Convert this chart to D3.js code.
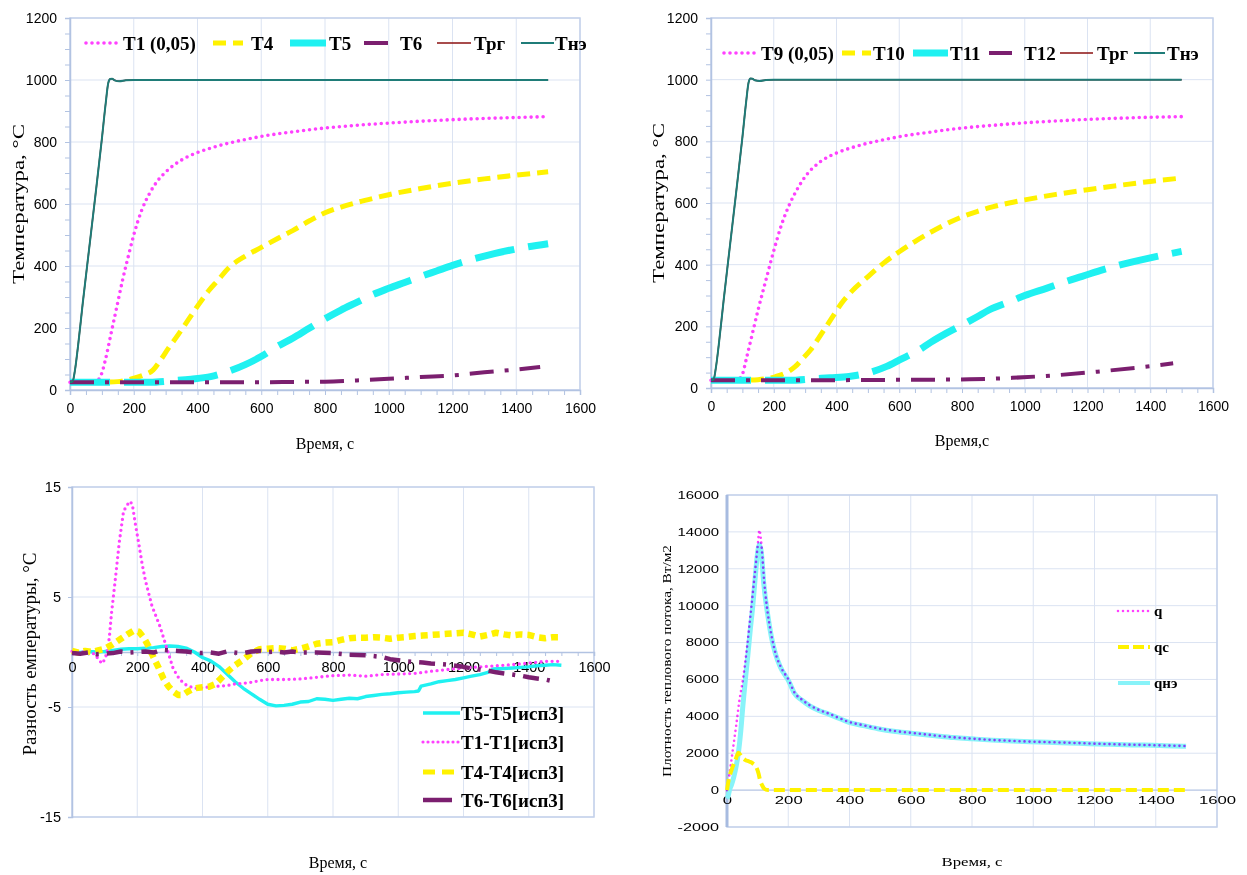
<!DOCTYPE html>
<html lang="ru">
<head>
<meta charset="utf-8">
<title>Температуры и тепловой поток</title>
<script src="https://cdn.jsdelivr.net/npm/d3@7/dist/d3.min.js"></script>
<style>
  html, body { margin: 0; padding: 0; background: #ffffff; }
  svg { display: block; }
</style>
</head>
<body>
<svg id="chart" width="1247" height="875"></svg>
<script>
// ---------- tick values ----------
const timeTicks = [0, 200, 400, 600, 800, 1000, 1200, 1400, 1600];
const tempTicks = [0, 200, 400, 600, 800, 1000, 1200];
const diffTicks = [-15, -5, 5, 15];
const fluxTicks = [-2000, 0, 2000, 4000, 6000, 8000, 10000, 12000, 14000, 16000];

// ---------- upper left: temperatures, °C vs time, s ----------
const tlNames = ["T1 (0,05)", "T4", "T5", "T6", "Трг", "Тнэ"];
const tlT1 = [[0,25],[70,25],[80,27],[90,34],[100,55],[111,97],[129,183],[147,269],[165,355],[185,440],[200,500],[225,580],[250,635],[275,675],[300,703],[350,742],[400,766],[450,783],[500,797],[550,808],[600,818],[700,833],[800,845],[900,854],[1000,861],[1100,867],[1200,872],[1300,876],[1400,879],[1500,882]];
const tlT4 = [[0,25],[100,25],[150,27],[200,38],[230,48],[261,65],[285,98],[309,135],[335,172],[357,205],[380,240],[405,278],[435,320],[465,355],[500,396],[550,432],[600,460],[650,488],[700,515],[750,545],[800,572],[850,590],[900,605],[950,618],[1000,630],[1100,650],[1200,667],[1300,681],[1400,693],[1500,704]];
const tlT5 = [[0,25],[250,25],[321,30],[380,35],[441,43],[502,62],[550,82],[598,107],[646,138],[700,168],[742,194],[802,231],[850,258],[898,282],[946,306],[1000,328],[1050,347],[1100,366],[1150,384],[1200,402],[1300,432],[1400,455],[1500,472]];
const tlT6 = [[0,25],[300,25],[600,25],[700,26],[800,27],[900,31],[1000,36],[1100,42],[1200,47],[1300,57],[1400,66],[1475,74]];
const tlTrg = [[0,25],[8,27],[15,60],[25,140],[40,280],[60,455],[80,630],[100,810],[112,925],[120,990],[126,1003],[132,1004],[140,999],[155,996],[175,999],[200,1000],[400,1000],[800,1000],[1200,1000],[1500,1000]];
const tlTne = [[0,25],[8,27],[15,60],[25,140],[40,280],[60,455],[80,630],[100,810],[112,925],[120,990],[126,1003],[132,1004],[140,999],[155,996],[175,999],[200,1000],[400,1000],[800,1000],[1200,1000],[1500,1000]];

// ---------- upper right: temperatures, °C vs time, s ----------
const trNames = ["T9 (0,05)", "T10", "T11", "T12", "Трг", "Тнэ"];
const trT9 = [[0,25],[70,25],[85,28],[97,37],[115,105],[132,177],[150,253],[175,350],[200,445],[225,530],[250,595],[275,645],[300,685],[350,735],[400,762],[450,780],[500,794],[550,805],[600,815],[700,830],[800,843],[900,852],[1000,860],[1100,866],[1200,871],[1300,875],[1400,878],[1500,880]];
const trT10 = [[0,25],[100,25],[150,27],[206,37],[240,50],[268,69],[292,95],[317,123],[342,160],[367,199],[392,238],[416,275],[450,315],[490,352],[550,405],[600,442],[650,475],[700,505],[750,532],[800,555],[850,573],[900,588],[950,600],[1000,610],[1100,628],[1200,643],[1300,657],[1400,670],[1500,681]];
const trT11 = [[0,25],[250,25],[328,30],[380,33],[440,37],[515,53],[560,70],[601,91],[663,123],[700,148],[749,177],[811,210],[850,232],[886,253],[960,283],[1000,300],[1071,324],[1130,345],[1183,362],[1250,384],[1300,398],[1400,422],[1500,443]];
const trT12 = [[0,25],[300,25],[515,26],[700,27],[824,28],[960,33],[1108,42],[1231,53],[1368,67],[1473,80]];
const trTrg = [[0,25],[8,27],[15,62],[25,142],[40,282],[60,458],[80,633],[100,812],[112,928],[120,992],[126,1004],[132,1003],[140,998],[155,996],[175,999],[200,1000],[400,1000],[800,1000],[1200,1000],[1500,1000]];
const trTne = [[0,25],[8,27],[15,62],[25,142],[40,282],[60,458],[80,633],[100,812],[112,928],[120,992],[126,1004],[132,1003],[140,998],[155,996],[175,999],[200,1000],[400,1000],[800,1000],[1200,1000],[1500,1000]];

// ---------- lower left: temperature differences, °C ----------
const dNames = ["T5-T5[исп3]", "T1-T1[исп3]", "T4-T4[исп3]", "T6-T6[исп3]"];
const dT5 = [[0,0],[25,-0.05],[50,0.05],[75,0],[100,0.05],[125,0.15],[150,0.25],[175,0.3],[200,0.3],[225,0.35],[250,0.4],[275,0.5],[300,0.55],[325,0.5],[350,0.35],[375,0.0],[400,-0.5],[425,-0.8],[450,-1.3],[475,-2.0],[500,-2.7],[525,-3.3],[550,-3.8],[575,-4.3],[600,-4.75],[625,-4.9],[650,-4.85],[675,-4.75],[700,-4.55],[725,-4.5],[750,-4.25],[775,-4.3],[800,-4.4],[825,-4.3],[850,-4.2],[875,-4.25],[900,-4.05],[925,-3.95],[950,-3.85],[975,-3.8],[1000,-3.7],[1025,-3.65],[1050,-3.6],[1062,-3.55],[1070,-3.1],[1100,-2.9],[1125,-2.7],[1150,-2.6],[1175,-2.5],[1200,-2.35],[1225,-2.2],[1250,-2.05],[1275,-1.85],[1290,-1.55],[1325,-1.5],[1350,-1.45],[1375,-1.4],[1400,-1.35],[1425,-1.25],[1450,-1.2],[1475,-1.15],[1500,-1.2]];
const dT1 = [[0,0.05],[25,0],[50,0.05],[70,-0.2],[82,-0.7],[92,-1.05],[102,-0.6],[110,0.3],[115,1.5],[121,3.5],[132,6.4],[145,10.0],[158,12.8],[170,13.4],[178,13.7],[185,13.4],[195,11.5],[205,9.8],[215,8.0],[225,6.5],[245,4.2],[270,2.3],[290,0.4],[310,-1.5],[330,-2.5],[350,-3.0],[375,-3.3],[400,-3.25],[425,-3.15],[450,-3.1],[475,-3.05],[500,-2.9],[525,-2.85],[550,-2.75],[575,-2.6],[600,-2.5],[650,-2.5],[700,-2.45],[750,-2.3],[800,-2.15],[850,-2.1],[900,-2.2],[950,-2.05],[1000,-2.0],[1050,-1.95],[1100,-1.75],[1150,-1.6],[1200,-1.45],[1250,-1.35],[1300,-1.25],[1350,-1.15],[1400,-1.0],[1450,-0.85],[1500,-0.85]];
const dT4 = [[0,0.1],[20,-0.05],[40,0.1],[60,0.0],[80,0.15],[100,0.3],[125,0.7],[150,1.2],[170,1.6],[190,1.95],[205,1.85],[220,1.3],[235,0.5],[250,-0.5],[265,-1.4],[280,-2.4],[295,-3.1],[310,-3.6],[325,-3.9],[340,-3.9],[355,-3.6],[375,-3.3],[400,-3.2],[420,-3.15],[440,-2.9],[460,-2.3],[480,-1.7],[500,-1.2],[525,-0.7],[550,-0.1],[575,0.25],[600,0.3],[625,0.35],[650,0.3],[675,0.15],[700,0.3],[725,0.5],[750,0.75],[775,0.85],[800,0.9],[825,1.1],[850,1.25],[875,1.3],[900,1.3],[925,1.35],[950,1.3],[975,1.2],[1000,1.3],[1025,1.35],[1050,1.45],[1075,1.5],[1100,1.55],[1125,1.6],[1150,1.65],[1175,1.7],[1200,1.75],[1225,1.6],[1250,1.4],[1275,1.55],[1300,1.75],[1325,1.6],[1350,1.5],[1375,1.6],[1400,1.55],[1425,1.35],[1450,1.25],[1475,1.35],[1500,1.35]];
const dT6 = [[0,-0.1],[25,-0.15],[50,-0.05],[75,-0.2],[100,-0.15],[125,-0.1],[150,0.05],[175,-0.05],[200,0.0],[225,0.05],[250,-0.05],[275,0.2],[300,0.15],[325,0.1],[350,0.05],[375,-0.05],[400,-0.1],[425,-0.05],[450,-0.15],[475,0.05],[500,-0.05],[525,-0.1],[550,0.05],[575,0.1],[600,0.0],[625,0.05],[650,-0.05],[675,0.05],[700,-0.05],[750,-0.05],[800,-0.1],[850,-0.25],[900,-0.3],[950,-0.45],[975,-0.65],[1000,-0.75],[1025,-0.85],[1050,-0.9],[1075,-0.95],[1100,-1.05],[1125,-1.1],[1150,-1.15],[1175,-1.25],[1200,-1.35],[1225,-1.5],[1250,-1.6],[1275,-1.7],[1300,-1.85],[1325,-1.95],[1350,-2.05],[1375,-2.15],[1400,-2.3],[1425,-2.4],[1450,-2.5],[1480,-2.7]];

// ---------- lower right: heat flux density, W/m2 ----------
const qNames = ["q", "qc", "qнэ"];
const qTotal = [[0,0],[5,500],[10,1100],[20,2300],[30,3500],[40,4800],[52,6000],[65,7700],[78,9700],[90,11600],[100,13200],[106,14100],[110,13700],[114,13000],[122,11200],[133,9600],[145,8400],[158,7440],[175,6700],[202,5950],[220,5300],[245,4900],[270,4600],[300,4350],[332,4150],[360,3950],[394,3720],[450,3500],[493,3350],[550,3200],[617,3080],[680,2960],[741,2860],[800,2790],[865,2720],[930,2670],[989,2630],[1050,2600],[1114,2570],[1180,2530],[1238,2500],[1300,2470],[1362,2450],[1430,2420],[1499,2390]];
const qSurface = [[0,0],[5,500],[15,1100],[28,1650],[37,2030],[48,1800],[59,1640],[72,1550],[84,1450],[96,1230],[103,900],[108,540],[115,250],[121,90],[134,0],[200,0],[400,0],[600,0],[800,0],[1000,0],[1200,0],[1400,0],[1500,0]];
const qHeater = [[0,-450],[4,-300],[8,0],[15,300],[22,700],[30,1300],[37,2000],[45,3200],[52,4600],[60,6000],[68,7300],[76,8700],[84,9960],[92,11500],[100,12880],[106,13300],[112,12900],[120,11200],[133,9500],[145,8300],[158,7400],[175,6650],[202,5900],[220,5250],[245,4870],[270,4570],[300,4320],[332,4120],[360,3930],[394,3700],[450,3480],[493,3330],[550,3180],[617,3060],[680,2950],[741,2850],[800,2780],[865,2710],[930,2660],[989,2620],[1050,2590],[1114,2560],[1180,2520],[1238,2490],[1300,2460],[1362,2440],[1430,2410],[1499,2380]];

// ---------- look ----------
const GRID = "#dbe3f2", FRAME = "#c3d1ea", AXIS = "#b2c3e2";
const MAGENTA = "#ff40ff", YELLOW = "#fff200", CYAN = "#1ff1f1", PURPLE = "#7b1f6f";
const TEAL = "#1f7c78", DARKRED = "#8b1111", CYAN_LIGHT = "#88f3f9";
const SANS = "'Liberation Sans', Arial, sans-serif";
const SERIF = "'Liberation Serif', 'Times New Roman', serif";
const plain = d => String(d);

const svg = d3.select("#chart");

function tickStyle(sel, color) {
  sel.select(".domain").attr("stroke", color || AXIS).attr("stroke-width", 1.5);
  sel.selectAll(".tick line").attr("stroke", color || AXIS);
}
function labelStyle(sel, size) {
  sel.select(".domain").remove();
  sel.selectAll("text").attr("font-size", size).attr("font-family", SANS).attr("fill", "#000");
}
function gridLines(g, x, y, xs, ys) {
  const [x0, x1] = x.range(), [y0, y1] = y.range();
  g.append("g").selectAll("line").data(ys).join("line")
    .attr("x1", x0).attr("x2", x1).attr("y1", d => y(d)).attr("y2", d => y(d))
    .attr("stroke", GRID).attr("stroke-width", 1);
  g.append("g").selectAll("line").data(xs).join("line")
    .attr("x1", d => x(d)).attr("x2", d => x(d)).attr("y1", y0).attr("y2", y1)
    .attr("stroke", GRID).attr("stroke-width", 1);
  g.append("rect").attr("x", x0).attr("y", y1).attr("width", x1 - x0).attr("height", y0 - y1)
    .attr("fill", "none").attr("stroke", FRAME).attr("stroke-width", 1.5);
}
function drawPath(g, line, data, st) {
  return g.append("path").attr("d", line(data)).attr("fill", "none")
    .attr("stroke", st.color).attr("stroke-width", st.width)
    .attr("stroke-dasharray", st.dash || null)
    .attr("stroke-linecap", st.cap || "butt")
    .attr("stroke-linejoin", "round");
}
function legendItem(g, st, x1, x2, tx, y, label, size) {
  g.append("line").attr("x1", x1).attr("x2", x2).attr("y1", y).attr("y2", y)
    .attr("stroke", st.color).attr("stroke-width", st.lw || st.width)
    .attr("stroke-dasharray", st.dash || null).attr("stroke-linecap", st.cap || "butt");
  g.append("text").attr("x", tx).attr("y", y).attr("dy", "0.35em")
    .attr("font-family", SERIF).attr("font-weight", "bold").attr("font-size", size)
    .attr("fill", "#000").text(label);
}
function rotatedTitle(g, cx, cy, text, size, len) {
  const t = g.append("text").attr("transform", `translate(${cx},${cy}) rotate(-90)`)
    .attr("text-anchor", "middle").attr("dy", "0.35em")
    .attr("font-family", SERIF).attr("font-size", size).attr("fill", "#000").text(text);
  if (len) t.attr("textLength", len).attr("lengthAdjust", "spacingAndGlyphs");
  return t;
}
function flatTitle(g, cx, cy, text, size, len) {
  const t = g.append("text").attr("x", cx).attr("y", cy).attr("text-anchor", "middle").attr("dy", "0.35em")
    .attr("font-family", SERIF).attr("font-size", size).attr("fill", "#000").text(text);
  if (len) t.attr("textLength", len).attr("lengthAdjust", "spacingAndGlyphs");
  return t;
}

// line styles for the temperature panels
const tempStyles = [
  { color: MAGENTA, width: 3.6, dash: "0 6", cap: "round" },
  { color: YELLOW, width: 5, dash: "13 7" },
  { color: CYAN, width: 7, dash: "40 14" },
  { color: PURPLE, width: 4, dash: "24 11 4 11" },
  { color: DARKRED, width: 1.5 },
  { color: TEAL, width: 2 }
];

function tempPanel(p) {
  const g = svg.append("g");
  const x = d3.scaleLinear().domain([0, 1600]).range([p.left, p.right]);
  const y = d3.scaleLinear().domain([0, 1200]).range([p.bottom, p.top]);
  gridLines(g, x, y, timeTicks, tempTicks);

  g.append("g").attr("transform", `translate(0,${p.bottom})`)
    .call(d3.axisBottom(x).tickValues(d3.range(0, 1601, 50)).tickSize(5).tickFormat(""))
    .call(tickStyle);
  g.append("g").attr("transform", `translate(${p.left},0)`)
    .call(d3.axisLeft(y).tickValues(d3.range(0, 1201, 50)).tickSize(5).tickFormat(""))
    .call(tickStyle);
  g.append("g").attr("transform", `translate(0,${p.bottom})`)
    .call(d3.axisBottom(x).tickValues(timeTicks).tickFormat(plain).tickSize(0).tickPadding(13))
    .call(labelStyle, 14);
  g.append("g").attr("transform", `translate(${p.left},0)`)
    .call(d3.axisLeft(y).tickValues(tempTicks).tickFormat(plain).tickSize(0).tickPadding(13))
    .call(labelStyle, 14);

  const line = d3.line().x(d => x(d[0])).y(d => y(d[1])).curve(d3.curveMonotoneX);
  p.series.forEach((s, i) => drawPath(g, line, s, tempStyles[i]));

  p.names.forEach((n, i) => {
    const L = p.legend[i];
    legendItem(g, tempStyles[i], L[0], L[1], L[2], p.legendY, n, 19);
  });

  flatTitle(g, (p.left + p.right) / 2, p.xTitleY, p.xTitle, 16);
  rotatedTitle(g, p.yTitleX, (p.top + p.bottom) / 2, "Температура, °C", 16.5, 160);
}

tempPanel({
  left: 70, right: 580, top: 18, bottom: 390,
  series: [tlT1, tlT4, tlT5, tlT6, tlTrg, tlTne], names: tlNames,
  legendY: 43,
  legend: [[86, 119, 123], [213, 243, 251], [290, 326, 329], [364, 389, 400], [437, 471, 474], [521, 554, 555]],
  xTitle: "Время, с", xTitleY: 443, yTitleX: 18
});
tempPanel({
  left: 711, right: 1213, top: 18, bottom: 388,
  series: [trT9, trT10, trT11, trT12, trTrg, trTne], names: trNames,
  legendY: 53,
  legend: [[724, 758, 761], [842, 871, 873], [913, 948, 950], [989, 1012, 1024], [1060, 1093, 1097], [1134, 1165, 1167]],
  xTitle: "Время,с", xTitleY: 440, yTitleX: 658
});

// ---------- lower left panel ----------
(function () {
  const g = svg.append("g");
  const x = d3.scaleLinear().domain([0, 1600]).range([72, 594]);
  const y = d3.scaleLinear().domain([-15, 15]).range([817, 487]);
  gridLines(g, x, y, timeTicks, diffTicks);

  g.append("g").attr("transform", `translate(0,${y(0)})`)
    .call(d3.axisBottom(x).tickValues(d3.range(0, 1601, 50)).tickSize(4).tickFormat(""))
    .call(tickStyle);
  g.append("g").attr("transform", `translate(72,0)`)
    .call(d3.axisLeft(y).tickValues(diffTicks).tickSize(4).tickFormat(""))
    .call(tickStyle);
  g.append("g").attr("transform", `translate(0,${y(0)})`)
    .call(d3.axisBottom(x).tickValues(timeTicks).tickFormat(plain).tickSize(0).tickPadding(10))
    .call(labelStyle, 14.5);
  g.append("g").attr("transform", `translate(72,0)`)
    .call(d3.axisLeft(y).tickValues(diffTicks).tickFormat(plain).tickSize(0).tickPadding(11))
    .call(labelStyle, 14.5);

  const styles = [
    { color: CYAN, width: 3.4 },
    { color: MAGENTA, width: 3.3, dash: "0 5.5", cap: "round" },
    { color: YELLOW, width: 6.5, dash: "7 5", lw: 5 },
    { color: PURPLE, width: 4.5, dash: "16 8 3 8", lw: 4 }
  ];
  const line = d3.line().x(d => x(d[0])).y(d => y(d[1])).curve(d3.curveLinear);
  [dT5, dT1, dT4, dT6].forEach((s, i) => drawPath(g, line, s, styles[i]));

  const legendRows = [713, 742, 772, 800];
  const legendStyles = [
    { color: CYAN, width: 3.5 },
    { color: MAGENTA, width: 3.2, dash: "0 5", cap: "round" },
    { color: YELLOW, width: 5, dash: "12 7" },
    { color: PURPLE, width: 4.5 }
  ];
  dNames.forEach((n, i) => {
    legendItem(g, legendStyles[i], 423, i === 3 ? 452 : 460, 461, legendRows[i], n, 19);
  });

  flatTitle(g, 338, 862, "Время, с", 16);
  rotatedTitle(g, 30, 654, "Разность емпературы, °С", 18, 203);
})();

// ---------- lower right panel ----------
(function () {
  const g = svg.append("g");
  const x = d3.scaleLinear().domain([0, 1600]).range([727, 1217]);
  const y = d3.scaleLinear().domain([-2000, 16000]).range([827, 495]);
  gridLines(g, x, y, timeTicks, fluxTicks);

  g.append("line").attr("x1", 727).attr("x2", 727).attr("y1", 495).attr("y2", 827)
    .attr("stroke", "#a7bbe0").attr("stroke-width", 3);
  g.append("line").attr("x1", 727).attr("x2", 1217).attr("y1", y(0)).attr("y2", y(0))
    .attr("stroke", AXIS).attr("stroke-width", 1);

  g.append("g").attr("transform", `translate(0,${y(0)})`)
    .call(d3.axisBottom(x).tickValues(timeTicks).tickFormat(plain).tickSize(0).tickPadding(6))
    .call(labelStyle, 10.5)
    .call(s => s.selectAll("text").attr("textLength", d => String(d).length * 9.3).attr("lengthAdjust", "spacingAndGlyphs"));
  g.append("g").attr("transform", `translate(727,0)`)
    .call(d3.axisLeft(y).tickValues(fluxTicks).tickFormat(plain).tickSize(0).tickPadding(8))
    .call(labelStyle, 10.5)
    .call(s => s.selectAll("text").attr("textLength", d => String(d).length * 8.3).attr("lengthAdjust", "spacingAndGlyphs"));

  const line = d3.line().x(d => x(d[0])).y(d => y(d[1])).curve(d3.curveMonotoneX);
  drawPath(g, line, qHeater, { color: CYAN_LIGHT, width: 5 });
  drawPath(g, line, qTotal, { color: MAGENTA, width: 2.6, dash: "0 5", cap: "round" })
    .style("mix-blend-mode", "multiply");
  drawPath(g, line, qSurface, { color: YELLOW, width: 4, dash: "11 5" });

  const legendStyles = [
    { color: MAGENTA, width: 2.6, dash: "0 5", cap: "round" },
    { color: YELLOW, width: 4, dash: "11 4" },
    { color: CYAN_LIGHT, width: 4 }
  ];
  const rows = [611, 647, 683];
  qNames.forEach((n, i) => legendItem(g, legendStyles[i], 1118, 1150, 1154, rows[i], n, 15));

  flatTitle(g, 972, 862, "Время, с", 12.5, 61);
  rotatedTitle(g, 666, 661, "Плотность теплового потока, Вт/м2", 13.5, 232);
})();
</script>
</body>
</html>
